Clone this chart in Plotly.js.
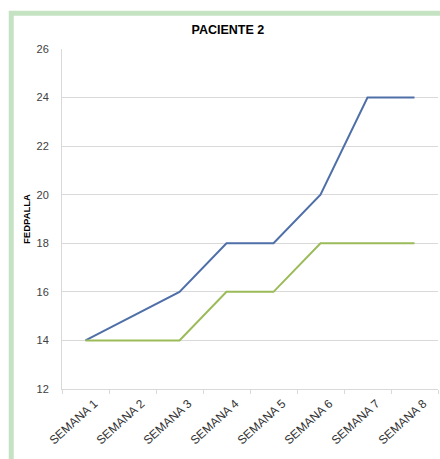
<!DOCTYPE html>
<html>
<head>
<meta charset="utf-8">
<script src="https://cdn.plot.ly/plotly-3.0.1.min.js"></script>
<style>
  html, body { margin: 0; padding: 0; background: #ffffff; }
  #chart { width: 440px; height: 459px; }
</style>
</head>
<body>
<div id="chart"></div>
<script>
// Weekly FEDPALLA scores for patient 2
const semanas = ["SEMANA 1", "SEMANA 2", "SEMANA 3", "SEMANA 4", "SEMANA 5", "SEMANA 6", "SEMANA 7", "SEMANA 8"];
const serieAzul = [14, 15, 16, 18, 18, 20, 24, 24];
const serieVerde = [14, 14, 14, 16, 16, 18, 18, 18];
const yTicks = [12, 14, 16, 18, 20, 22, 24, 26];

const baseFont = "Liberation Sans, Arial, sans-serif";

const traces = [
  {
    x: semanas, y: serieAzul, type: "scatter", mode: "lines",
    line: { color: "#4f6fa8", width: 2 }, showlegend: false, hoverinfo: "skip"
  },
  {
    x: semanas, y: serieVerde, type: "scatter", mode: "lines",
    line: { color: "#9bbb59", width: 2 }, showlegend: false, hoverinfo: "skip"
  }
];

const layout = {
  width: 440,
  height: 459,
  margin: { l: 62, r: 2, t: 49, b: 70 },
  paper_bgcolor: "#ffffff",
  plot_bgcolor: "#ffffff",
  font: { family: baseFont, color: "#404040", size: 10 },
  title: {
    text: "<b>PACIENTE 2</b>",
    font: { family: baseFont, size: 12.5, color: "#000000" },
    x: 0.518, xanchor: "center", xref: "container",
    y: 0.935, yref: "container", yanchor: "middle"
  },
  xaxis: {
    type: "category",
    tickangle: -42,
    tickson: "boundaries",
    ticks: "outside",
    ticklen: 4,
    tickcolor: "#d9d9d9",
    ticklabelshift: 9,
    ticklabelstandoff: 2,
    showline: true,
    linecolor: "#d9d9d9",
    linewidth: 1,
    showgrid: false,
    zeroline: false,
    tickfont: { family: baseFont, size: 12, color: "#333333" },
    range: [-0.5, 7.5]
  },
  yaxis: {
    range: [12, 26],
    tickvals: yTicks,
    ticktext: yTicks.map(String),
    ticks: "",
    ticklabelstandoff: 10,
    showline: true,
    linecolor: "#d9d9d9",
    linewidth: 1,
    showgrid: true,
    gridcolor: "#d9d9d9",
    gridwidth: 1,
    zeroline: false,
    tickfont: { family: baseFont, size: 11, color: "#404040" },
    title: {
      text: "<b>FEDPALLA</b>",
      font: { family: baseFont, size: 9.5, color: "#000000" },
      standoff: 4
    }
  },
  shapes: [
    {
      // light green frame around the chart area
      type: "rect", xref: "paper", yref: "paper",
      x0: -0.135, x1: 1.2, y0: -0.4, y1: 1.105,
      line: { color: "#c5e3c3", width: 5 },
      fillcolor: "rgba(0,0,0,0)",
      layer: "below"
    }
  ]
};

Plotly.newPlot("chart", traces, layout, { displayModeBar: false, staticPlot: true });
</script>
</body>
</html>
